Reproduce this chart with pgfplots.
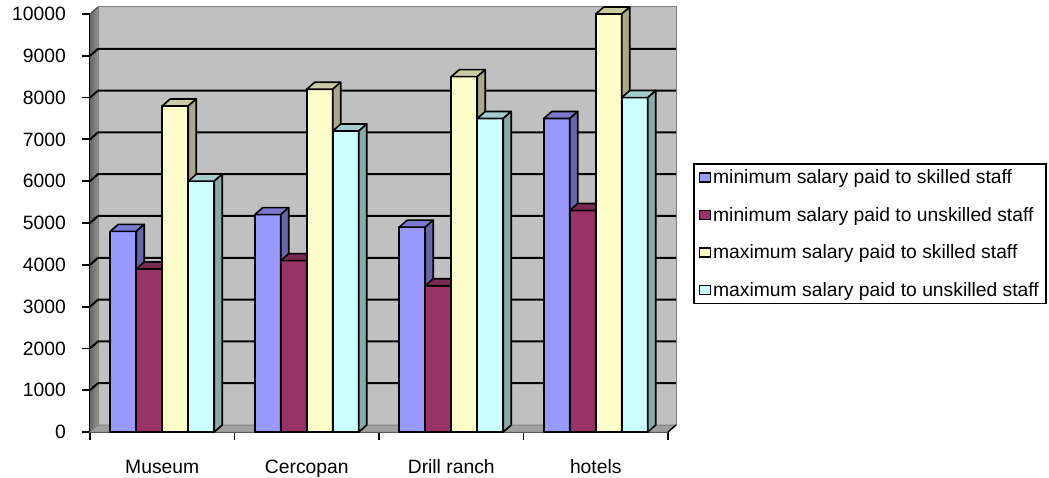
\documentclass[border=0pt]{standalone}
\usepackage{pgfplots}
\pgfplotsset{compat=1.18}
\usepackage{fontspec}
\setmainfont{Liberation Sans}
\definecolor{c1}{HTML}{9999FF}
\definecolor{c1t}{HTML}{7A7ACC}
\definecolor{c1s}{HTML}{6666AA}
\definecolor{c2}{HTML}{993366}
\definecolor{c2t}{HTML}{7A2952}
\definecolor{c2s}{HTML}{662244}
\definecolor{c3}{HTML}{FFFFCC}
\definecolor{c3t}{HTML}{CCCCA3}
\definecolor{c3s}{HTML}{AAAA88}
\definecolor{c4}{HTML}{CCFFFF}
\definecolor{c4t}{HTML}{A3CCCC}
\definecolor{c4s}{HTML}{88AAAA}
\definecolor{wall}{HTML}{C0C0C0}
\definecolor{floorc}{HTML}{A0A0A0}
\pgfdeclareplotmark{none3d}{}
\newcommand\fs{\fontsize{19.3}{23}\selectfont}
\pgfplotsset{
  bar3d/.style n args={4}{
    scatter, only marks, mark=none3d, forget plot,
    point meta=y, point meta min=0, point meta max=10000,
    scatter/@pre marker code/.code={%
      \pgfmathsetmacro\hh{\pgfplotspointmetatransformed*0.418}%
      \pgfmathsetmacro\xa{#1-13}%
      \pgfmathsetmacro\xb{#1+13}%
      \pgfmathsetmacro\xc{#1+21}%
      \pgfmathsetmacro\xd{#1-5}%
      \pgfmathsetmacro\yb{7-\hh}%
      \filldraw[line width=1.6pt, draw=black, line join=round, fill=#2] (\xa pt,-\hh pt) rectangle (\xb pt,0pt);
      \filldraw[line width=1.6pt, draw=black, line join=round, fill=#3] (\xa pt,0pt) -- (\xb pt,0pt) -- (\xc pt,7pt) -- (\xd pt,7pt) -- cycle;
      \filldraw[line width=1.6pt, draw=black, line join=round, fill=#4] (\xb pt,0pt) -- (\xc pt,7pt) -- (\xc pt,\yb pt) -- (\xb pt,-\hh pt) -- cycle;
    },
    scatter/@post marker code/.code={},
  },
  legimg/.style={legend image code/.code={\draw[fill=#1, line width=1.4pt] (0pt,-4.5pt) rectangle (11pt,4.5pt);}},
}
\begin{document}
\begin{tikzpicture}
\useasboundingbox (0,0) rectangle (1049pt,477pt);
\begin{axis}[
  at={(90pt,45pt)}, anchor=south west,
  scale only axis, width=578pt, height=418pt,
  xmin=-0.5, xmax=3.5, ymin=0, ymax=10000,
  clip=false,
  axis x line*=bottom, axis y line*=left,
  axis line style={line width=1.8pt, black},
  xtick={-0.5,0.5,1.5,2.5,3.5}, xticklabels={},
  extra x ticks={0,1,2,3},
  extra x tick labels={Museum, Cercopan, Drill ranch, hotels},
  extra x tick style={major tick length=0pt, xticklabel style={anchor=base, yshift=-41pt}},
  ytick={0,1000,2000,3000,4000,5000,6000,7000,8000,9000,10000},
  yticklabels={0,1000,2000,3000,4000,5000,6000,7000,8000,9000,10000},
  scaled y ticks=false, scaled x ticks=false,
  tick align=outside,
  major tick length=8pt,
  every tick/.style={black, line width=1.8pt},
  tick label style={font=\fs},
  yticklabel style={anchor=east, inner sep=0pt, xshift=-16pt},
  legend style={at={(1.04325,0.6435)}, anchor=north west, draw=black, line width=1.5pt,
    font=\fs, inner xsep=5pt, inner ysep=4pt, row sep=18pt},
  legend cell align=left,
]
% side wall
\fill[left color=gray!80!black, right color=gray!85] (axis cs:-0.5,0) -- ([shift={(8pt,7pt)}]axis cs:-0.5,0) -- ([shift={(8pt,7pt)}]axis cs:-0.5,10000) -- (axis cs:-0.5,10000) -- cycle;
% back wall
\filldraw[fill=wall, draw=gray, line width=1pt] ([shift={(8pt,7pt)}]axis cs:-0.5,0) rectangle ([shift={(8pt,7pt)}]axis cs:3.5,10000);
% floor
\filldraw[fill=floorc, draw=gray, line width=1pt] (axis cs:-0.5,0) -- (axis cs:3.5,0) -- ([shift={(8pt,7pt)}]axis cs:3.5,0) -- ([shift={(8pt,7pt)}]axis cs:-0.5,0) -- cycle;
\draw[black, line width=1.5pt] (axis cs:3.5,0) -- ([shift={(8pt,7pt)}]axis cs:3.5,0);
% grid lines
\pgfplotsinvokeforeach{1000,2000,3000,4000,5000,6000,7000,8000,9000}{
  \draw[black, line width=2pt] (axis cs:-0.5,#1) -- ([shift={(8pt,7pt)}]axis cs:-0.5,#1) -- ([shift={(8pt,7pt)}]axis cs:3.5,#1);
}
\draw[black!70, line width=1.2pt] (axis cs:-0.5,10000) -- ([shift={(8pt,7pt)}]axis cs:-0.5,10000);

\addplot[bar3d={-39}{c1}{c1t}{c1s}] coordinates {(0,4800) (1,5200) (2,4900) (3,7500)};
\addplot[bar3d={-13}{c2}{c2t}{c2s}] coordinates {(0,3900) (1,4100) (2,3500) (3,5300)};
\addplot[bar3d={13}{c3}{c3t}{c3s}] coordinates {(0,7800) (1,8200) (2,8500) (3,10000)};
\addplot[bar3d={39}{c4}{c4t}{c4s}] coordinates {(0,6000) (1,7200) (2,7500) (3,8000)};

\addlegendimage{legimg=c1}
\addlegendentry{minimum salary paid to skilled staff}
\addlegendimage{legimg=c2}
\addlegendentry{minimum salary paid to unskilled staff}
\addlegendimage{legimg=c3}
\addlegendentry{maximum salary paid to skilled staff}
\addlegendimage{legimg=c4}
\addlegendentry{maximum salary paid to unskilled staff}
\end{axis}
\end{tikzpicture}
\end{document}
